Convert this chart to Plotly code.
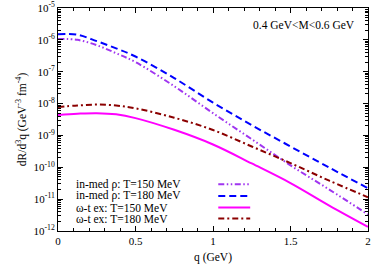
import plotly.graph_objects as go

q = [0, 0.125, 0.25, 0.375, 0.5, 0.75, 1.0, 1.25, 1.5, 1.75, 2.0]
rho_150 = [1.07e-6, 1.0e-6, 6.8e-7, 3.8e-7, 2.0e-7, 3.5e-8, 5.0e-9, 7.6e-10, 1.15e-10, 2.0e-11, 3.3e-12]
rho_180 = [1.51e-6, 1.45e-6, 9.1e-7, 5.4e-7, 3.0e-7, 6.3e-8, 1.07e-8, 2.1e-9, 4.5e-10, 9.8e-11, 2.2e-11]
wt_150 = [4.4e-9, 4.8e-9, 5.0e-9, 4.6e-9, 3.5e-9, 1.5e-9, 5.2e-10, 1.32e-10, 3.2e-11, 6.3e-12, 1.35e-12]
wt_180 = [7.8e-9, 8.7e-9, 9.3e-9, 8.7e-9, 7.1e-9, 3.6e-9, 1.48e-9, 4.5e-10, 1.35e-10, 3.8e-11, 1.15e-11]

labels = ["in-med ρ: T=150 MeV", "in-med ρ: T=180 MeV", "ω-t ex: T=150 MeV", "ω-t ex: T=180 MeV"]
series = [rho_150, rho_180, wt_150, wt_180]
colors = ["#A035F0", "#0000FF", "#FF00FF", "#8B0000"]
dashes = ["6px,2.5px,1.5px,2.5px,1.5px,2.5px", "7px,4px", "solid", "6px,3px,2px,3px"]

x_ticks = [0, 0.5, 1, 1.5, 2]
x_ticktext = ["0", "0.5", "1", "1.5", "2"]
y_exps = [-12, -11, -10, -9, -8, -7, -6, -5]
y_ticks = [10.0 ** e for e in y_exps]
y_ticktext = ["10<sup>%d</sup>" % e for e in y_exps]
minor_x = [i / 10 for i in range(21)]
minor_y = [m * 10.0 ** e for e in range(-12, -5) for m in range(2, 10)]

FONT = "Liberation Serif"
fig = go.Figure()
for lab, ys, c, d in zip(labels, series, colors, dashes):
    fig.add_trace(go.Scatter(x=q, y=ys, mode="lines", name=lab, showlegend=False, hoverinfo="skip",
                             line=dict(color=c, width=2, dash=d, shape="spline", smoothing=1.0)))

# legend: text on the left, line sample on the right
row_y = [0.21, 0.157, 0.105, 0.056]
for lab, c, d, yy in zip(labels, colors, dashes, row_y):
    fig.add_annotation(x=0.05, y=yy, xref="paper", yref="paper", text=lab, showarrow=False,
                       xanchor="left", yanchor="middle", font=dict(family=FONT, size=11.5, color="black"))
    fig.add_shape(type="line", xref="paper", yref="paper", x0=0.517, x1=0.62, y0=yy, y1=yy,
                  line=dict(color=c, width=2, dash=d))

fig.add_annotation(x=0.794, y=0.922, xref="paper", yref="paper", text="0.4 GeV&lt;M&lt;0.6 GeV",
                   showarrow=False, xanchor="center", yanchor="middle",
                   font=dict(family=FONT, size=11.5, color="black"))

fig.update_layout(
    width=374, height=270,
    margin=dict(l=57.5, r=6, t=7.5, b=39, autoexpand=False),
    plot_bgcolor="white", paper_bgcolor="white",
    font=dict(family=FONT, size=11, color="black"),
    showlegend=False,
)
fig.update_xaxes(range=[0, 2], tickvals=x_ticks, ticktext=x_ticktext, automargin=False,
                 ticks="inside", ticklen=5, tickcolor="black", showline=True, linecolor="black",
                 linewidth=1, mirror="allticks", showgrid=False, zeroline=False,
                 minor=dict(tickvals=minor_x, ticks="inside", ticklen=3, tickcolor="black"),
                 title=dict(text="q (GeV)", standoff=6, font=dict(family=FONT, size=11.5)))
fig.update_yaxes(type="log", range=[-12, -5], tickvals=y_ticks, ticktext=y_ticktext, automargin=False,
                 ticks="inside", ticklen=5, tickcolor="black", showline=True, linecolor="black",
                 linewidth=1, mirror="allticks", showgrid=False, zeroline=False,
                 minor=dict(tickvals=minor_y, ticks="inside", ticklen=3, tickcolor="black"),
                 title=dict(text="dR/d<sup>3</sup>q (GeV<sup>-3</sup> fm<sup>-4</sup>)", standoff=4,
                            font=dict(family=FONT, size=11.5)))

fig.write_html("out.html", config={"displayModeBar": False},
               post_script="document.body.style.margin='0';document.body.style.overflow='hidden';")
